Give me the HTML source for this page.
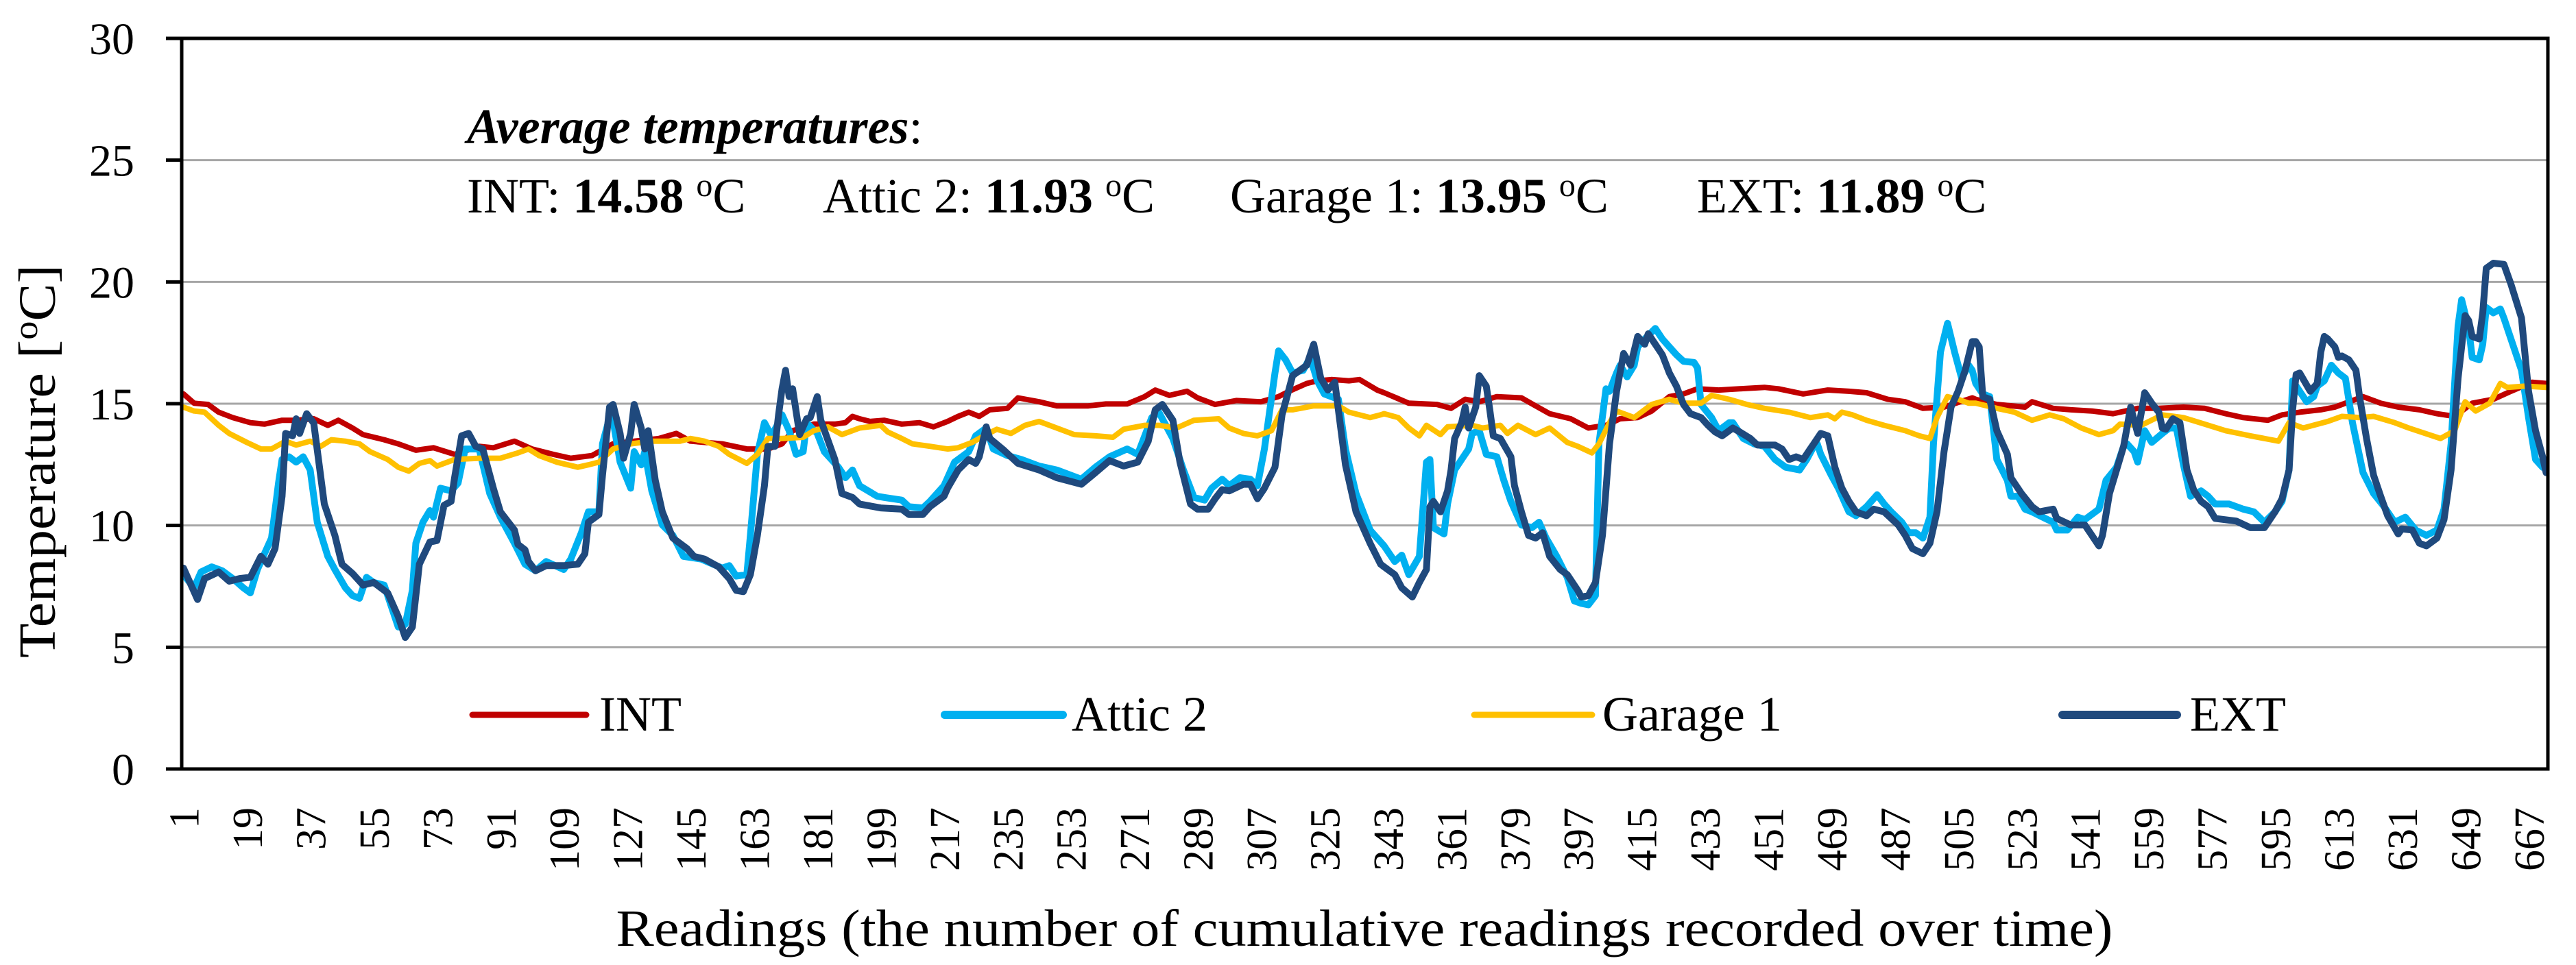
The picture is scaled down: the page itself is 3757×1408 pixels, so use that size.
<!DOCTYPE html>
<html><head><meta charset="utf-8"><style>
html,body{margin:0;padding:0;background:#fff;}
svg{display:block;font-family:"Liberation Serif",serif;}
</style></head><body>
<svg id="chart" width="3757" height="1408" viewBox="0 0 3757 1408" xmlns="http://www.w3.org/2000/svg">
<rect x="0" y="0" width="3757" height="1408" fill="#fff"/>
<g id="grid"></g>
<g id="series"></g>
<rect x="265" y="56" width="3451" height="1066" fill="none" stroke="#000" stroke-width="5"/>
<g id="yticks"></g>
<g id="xticks"></g>
<text x="80" y="673" transform="rotate(-90 80 673)" text-anchor="middle" font-size="76" textLength="574" lengthAdjust="spacingAndGlyphs">Temperature [<tspan font-size="50" dy="-26">o</tspan><tspan dy="26">C]</tspan></text>
<text x="1990" y="1380" text-anchor="middle" font-size="76" textLength="2183" lengthAdjust="spacingAndGlyphs">Readings (the number of cumulative readings recorded over time)</text>
<g font-size="72">
<text x="681" y="209"><tspan font-weight="bold" font-style="italic">Average temperatures</tspan>:</text>
<text x="681" y="310">INT: <tspan font-weight="bold">14.58</tspan> <tspan font-size="48" dy="-24">o</tspan><tspan dy="24">C</tspan></text>
<text x="1200" y="310">Attic 2: <tspan font-weight="bold">11.93</tspan> <tspan font-size="48" dy="-24">o</tspan><tspan dy="24">C</tspan></text>
<text x="1794" y="310">Garage 1: <tspan font-weight="bold">13.95</tspan> <tspan font-size="48" dy="-24">o</tspan><tspan dy="24">C</tspan></text>
<text x="2475" y="310">EXT: <tspan font-weight="bold">11.89</tspan> <tspan font-size="48" dy="-24">o</tspan><tspan dy="24">C</tspan></text>
</g>
<g font-size="72">
<line x1="689" y1="1043" x2="855" y2="1043" stroke="#C00000" stroke-width="9" stroke-linecap="round"/>
<text x="874" y="1066">INT</text>
<line x1="1378" y1="1043" x2="1550" y2="1043" stroke="#00B0F0" stroke-width="12" stroke-linecap="round"/>
<text x="1563" y="1066">Attic 2</text>
<line x1="2150" y1="1043" x2="2322" y2="1043" stroke="#FFC000" stroke-width="9" stroke-linecap="round"/>
<text x="2337" y="1066">Garage 1</text>
<line x1="3008" y1="1043" x2="3175" y2="1043" stroke="#1F497D" stroke-width="12" stroke-linecap="round"/>
<text x="3194" y="1066">EXT</text>
</g>
</svg>
<script>
const yTicks = [0,5,10,15,20,25,30];
const xTickLabels = [1,19,37,55,73,91,109,127,145,163,181,199,217,235,253,271,289,307,325,343,361,379,397,415,433,451,469,487,505,523,541,559,577,595,613,631,649,667];
const nReadings = 672;

const intR = [1,4,8,11,15,20,24,29,33,38,42,45,49,52,58,62,67,72,78,85,89,95,100,106,111,117,123,129,136,141,145,154,161,167,
171,174,180,186,189,191,193,196,200,205,210,214,218,221,224,227,230,235,238,244,249,258,263,269,274,277,281,286,289,294,300,307,312,315,320,323,327,332,335,340,
342,349,357,361,365,369,374,381,385,389,395,400,405,409,414,418,423,427,431,437,443,450,454,461,468,474,479,485,490,495,501,509,
510,516,524,526,532,537,543,549,556,562,569,575,581,586,593,597,602,608,612,620,625,630,636,641,646,651,657,662,668,672];
const intV = [15.4,15.02,14.97,14.65,14.43,14.22,14.16,14.32,14.32,14.38,14.11,14.32,14.0,13.73,13.52,13.35,13.09,13.19,12.92,13.25,13.19,13.46,13.14,12.92,12.76,12.87,13.35,13.46,13.57,13.78,13.46,13.35,13.14,13.14,
13.35,13.89,14.16,14.16,14.22,14.48,14.38,14.27,14.32,14.16,14.22,14.05,14.27,14.48,14.65,14.48,14.75,14.81,15.24,15.08,14.91,14.91,14.99,14.99,15.29,15.56,15.34,15.51,15.24,14.97,15.13,15.08,15.29,15.51,15.83,15.94,15.99,15.94,15.99,15.56,
15.45,15.02,14.97,14.81,15.18,15.08,15.29,15.24,14.91,14.59,14.38,14.0,14.11,14.38,14.43,14.7,15.29,15.4,15.61,15.56,15.61,15.67,15.61,15.4,15.56,15.51,15.45,15.18,15.08,14.81,14.86,15.24,
15.18,14.97,14.86,15.08,14.81,14.75,14.7,14.59,14.81,14.81,14.86,14.81,14.59,14.43,14.32,14.54,14.65,14.75,14.86,15.29,15.02,14.86,14.75,14.59,14.48,15.02,15.18,15.51,15.88,15.83];

const atticR = [1,4,6,9,12,15,18,20,22,24,26,28,29,31,33,35,37,39,42,44,47,49,51,53,55,58,60,62,64,66,67,69,71,72,74,77,79,81,85,88,91,95,98,101,104,109,111,114,116,119,120,122,123,125,128,129,131,132,134,137,140,143,148,154,156,158,161,162,164,166,168,170,
171,173,175,177,178,181,183,187,189,191,193,198,200,205,207,211,213,217,220,224,226,229,231,235,239,244,249,256,260,264,269,272,276,278,282,285,288,291,293,296,298,301,304,306,308,311,312,314,316,319,321,323,325,329,331,334,338,340,
342,345,347,349,352,354,355,356,359,360,362,364,366,367,369,371,374,376,378,381,384,386,388,391,394,396,398,400,402,403,405,406,408,409,411,413,414,416,419,421,423,425,427,430,431,432,435,437,440,441,444,447,450,453,456,460,462,464,465,466,469,471,474,476,479,482,484,486,489,491,493,495,497,498,500,502,504,506,508,509,
510,512,514,516,519,520,522,524,526,529,532,533,536,539,541,545,547,550,552,553,555,556,558,560,563,565,567,569,571,574,576,578,582,586,589,592,595,597,599,600,602,604,606,607,609,611,613,615,617,620,623,626,629,632,635,638,641,643,645,647,648,650,651,653,654,655,657,659,660,662,665,667,669,671];
const atticV = [7.98,7.44,8.09,8.3,8.14,7.82,7.44,7.23,8.19,8.84,9.48,11.74,12.71,12.82,12.6,12.82,12.28,10.13,8.73,8.19,7.44,7.12,7.01,7.87,7.66,7.55,6.69,5.83,5.94,7.33,9.27,10.13,10.61,10.34,11.53,11.42,11.74,13.14,13.14,11.31,10.34,9.27,8.41,8.14,8.52,8.19,8.62,9.7,10.56,10.56,13.35,14.43,14.32,12.6,11.53,13.03,12.49,13.03,11.42,10.02,9.59,8.73,8.62,8.25,8.35,7.92,7.98,9.59,12.92,14.22,13.68,14.22,
14.54,13.89,12.92,13.03,14.22,13.78,13.03,12.39,11.96,12.28,11.63,11.2,11.15,11.04,10.77,10.72,10.99,11.63,12.6,13.03,13.68,14.0,13.14,12.87,12.71,12.44,12.28,11.9,12.39,12.82,13.14,12.92,14.43,14.65,13.57,12.28,11.15,11.04,11.53,11.9,11.63,11.96,11.9,11.63,13.14,16.26,17.17,16.8,16.26,16.37,16.9,15.94,15.4,15.18,13.14,11.31,9.81,9.48,
9.16,8.52,8.78,7.98,8.73,12.6,12.71,9.91,9.65,10.88,12.28,12.71,13.14,13.78,13.89,12.92,12.82,11.85,10.99,10.02,9.91,10.13,9.48,8.73,7.87,6.9,6.8,6.74,7.12,13.35,15.61,15.51,16.26,16.58,16.1,16.58,17.33,17.66,18.09,17.66,17.33,17.01,16.74,16.69,16.47,14.97,14.43,13.89,14.22,14.22,13.57,13.35,13.25,12.71,12.39,12.28,12.71,13.25,13.35,12.92,12.06,11.53,10.56,10.4,10.77,11.26,10.88,10.56,10.13,9.7,9.7,9.48,10.34,13.35,17.12,18.3,17.12,16.04,16.58,16.37,
15.83,15.4,15.29,12.71,11.85,11.2,11.2,10.67,10.56,10.34,10.13,9.81,9.81,10.34,10.24,10.67,11.85,12.39,13.25,13.35,13.03,12.6,13.89,13.41,13.78,14.0,14.0,12.49,11.2,11.42,11.2,10.88,10.88,10.67,10.56,10.13,10.56,10.99,12.28,15.94,15.51,15.08,15.29,15.72,15.94,16.58,16.26,16.04,14.22,12.17,11.31,10.77,10.13,10.34,9.81,9.59,9.81,10.67,13.35,18.19,19.27,18.09,16.9,16.8,17.44,18.95,18.73,18.89,18.52,17.66,16.37,14.43,12.71,12.39];

const garageR = [1,4,7,11,14,19,23,26,30,33,37,40,43,47,51,54,59,62,65,68,71,73,78,85,91,96,99,102,107,113,116,119,123,128,134,138,142,145,149,153,156,161,164,167,
171,177,180,184,188,193,199,201,205,208,213,218,221,225,229,232,236,240,244,249,254,260,265,268,274,278,283,288,295,298,302,306,310,313,316,322,329,332,338,341,
342,346,349,352,354,358,360,367,370,375,377,380,385,389,394,397,401,403,406,408,413,418,423,427,432,435,440,445,450,457,463,468,470,472,475,479,484,490,494,497,499,502,505,508,
510,516,521,526,531,535,540,545,549,551,557,563,569,575,581,588,596,599,603,610,614,619,623,629,633,642,646,649,652,656,659,661,666,672];
const garageV = [14.86,14.7,14.65,14.11,13.78,13.41,13.14,13.14,13.46,13.3,13.46,13.25,13.52,13.46,13.35,13.03,12.71,12.39,12.23,12.55,12.66,12.44,12.71,12.76,12.76,12.98,13.14,12.87,12.6,12.39,12.49,12.6,13.14,13.35,13.46,13.46,13.46,13.57,13.46,13.25,12.92,12.55,12.92,13.57,
13.57,13.62,13.89,14.05,13.73,14.0,14.11,13.84,13.57,13.35,13.25,13.14,13.19,13.41,13.73,13.95,13.78,14.11,14.27,14.0,13.73,13.68,13.62,13.95,14.11,14.11,14.0,14.32,14.38,14.0,13.78,13.68,13.89,14.75,14.75,14.91,14.91,14.65,14.43,14.54,
14.59,14.43,14.0,13.68,14.11,13.73,14.05,14.11,14.0,14.11,13.78,14.11,13.73,14.0,13.41,13.25,12.98,13.35,14.22,14.7,14.43,14.97,15.18,15.02,15.02,15.34,15.18,14.97,14.81,14.65,14.43,14.54,14.38,14.65,14.54,14.32,14.11,13.89,13.68,13.57,14.43,15.29,15.18,15.02,
15.02,14.81,14.65,14.32,14.54,14.38,14.0,13.73,13.89,14.16,14.11,14.54,14.43,14.16,13.89,13.68,13.46,14.22,14.0,14.27,14.48,14.43,14.48,14.22,14.0,13.57,13.89,15.08,14.7,15.02,15.83,15.67,15.72,15.67];

const extR = [1,5,7,11,14,17,20,23,25,27,29,30,32,33,34,36,38,41,44,46,49,52,55,59,62,64,66,68,71,73,75,77,78,80,82,84,86,89,91,95,96,98,99,101,104,109,113,115,116,119,120,122,123,125,126,128,129,131,132,133,135,137,140,144,146,149,153,156,158,160,162,164,166,167,169,170,
171,172,173,174,176,178,179,181,182,186,188,191,193,199,205,207,211,213,217,218,221,224,226,227,229,230,234,238,244,249,256,260,264,268,272,275,277,279,282,284,287,289,292,294,296,298,302,304,306,308,311,313,315,316,320,322,324,326,328,331,334,338,341,
342,345,347,350,352,354,355,356,358,360,361,362,364,365,366,368,369,371,372,373,375,378,379,381,383,385,387,389,392,394,397,398,400,402,404,406,408,410,412,414,416,417,419,421,423,425,427,429,432,434,436,438,441,443,446,448,453,455,457,459,461,463,464,466,468,470,472,474,476,479,481,484,488,490,492,495,497,499,501,503,505,507,509,
510,511,512,514,516,519,520,523,526,528,532,533,537,541,543,545,546,548,550,552,554,556,558,560,562,563,564,566,568,570,572,574,576,578,584,588,592,595,597,599,600,601,602,605,607,608,609,610,612,613,614,616,618,619,621,623,625,627,630,631,634,636,638,641,643,645,647,649,650,651,653,654,655,657,660,662,665,667,669,671,672];
const extV = [8.25,6.96,7.82,8.09,7.71,7.82,7.87,8.73,8.41,9.05,11.2,13.78,13.68,14.38,13.78,14.59,14.2,10.88,9.59,8.41,8.03,7.55,7.66,7.23,6.26,5.4,5.83,8.41,9.32,9.38,10.83,10.99,11.96,13.68,13.78,13.25,13.14,11.53,10.56,9.81,9.22,9.0,8.52,8.14,8.35,8.35,8.41,8.84,10.13,10.45,12.06,14.86,14.97,13.78,12.76,13.78,14.97,14.0,13.14,13.89,11.85,10.56,9.48,9.05,8.73,8.62,8.3,7.82,7.33,7.28,7.98,9.59,11.63,13.25,13.25,14.54,
15.61,16.37,15.29,15.61,13.73,14.38,14.43,15.29,14.32,12.71,11.31,11.15,10.88,10.72,10.67,10.45,10.45,10.77,11.2,11.53,12.28,12.71,12.55,12.82,14.05,13.57,13.09,12.55,12.28,11.96,11.69,12.17,12.66,12.44,12.6,13.46,14.75,14.97,14.32,12.6,10.88,10.67,10.67,11.1,11.47,11.42,11.69,11.69,11.1,11.53,12.39,14.54,15.61,16.15,16.58,17.44,16.04,15.56,15.88,12.49,10.56,9.27,8.41,
8.3,7.98,7.44,7.06,7.66,8.19,10.77,10.99,10.56,11.42,12.28,13.57,14.22,14.86,14.0,14.86,16.15,15.72,14.75,13.68,13.57,12.82,11.63,10.56,9.59,9.48,9.7,8.73,8.19,7.98,7.33,7.06,7.12,7.66,9.59,13.35,15.51,17.06,16.58,17.76,17.44,17.87,17.44,17.01,16.26,15.72,14.97,14.59,14.43,14.11,13.84,13.68,14.0,13.84,13.57,13.3,13.3,13.14,12.71,12.82,12.71,13.14,13.35,13.78,13.68,12.39,11.53,10.99,10.56,10.4,10.67,10.56,10.02,9.59,9.05,8.84,9.27,10.56,13.03,14.86,15.51,16.37,17.55,
17.55,17.33,15.29,15.18,13.89,12.92,11.96,11.31,10.77,10.56,10.67,10.29,10.02,10.02,9.59,9.16,9.59,11.31,12.28,13.25,14.86,13.78,15.45,15.02,14.65,14.0,13.95,14.38,14.22,12.28,11.42,10.99,10.77,10.29,10.18,9.91,9.91,10.56,11.1,12.28,14.75,16.2,16.26,15.51,15.83,17.12,17.76,17.66,17.33,16.9,16.96,16.8,16.37,15.29,13.57,12.06,11.2,10.4,9.65,9.86,9.81,9.27,9.16,9.48,10.24,12.28,16.04,18.62,18.41,17.76,17.66,18.73,20.56,20.77,20.72,19.91,18.52,15.51,13.89,12.82,12.17];

const NS = 'http://www.w3.org/2000/svg';
const L = 265, R = 3716, T = 56, B = 1122;
function xScale(r){ return L + (r - 0.5) * (R - L) / nReadings; }
function yScale(v){ return B - v * (B - T) / 30; }

const grid = document.getElementById('grid');
const yt = document.getElementById('yticks');
yTicks.forEach(function(t){
  const y = yScale(t);
  if (t > 0 && t < 30) {
    const g = document.createElementNS(NS,'line');
    g.setAttribute('x1', L); g.setAttribute('x2', R);
    g.setAttribute('y1', y); g.setAttribute('y2', y);
    g.setAttribute('stroke', '#A6A6A6'); g.setAttribute('stroke-width', '3');
    
    
    grid.appendChild(g);
  }
  const tk = document.createElementNS(NS,'line');
  tk.setAttribute('x1', 242); tk.setAttribute('x2', L);
  tk.setAttribute('y1', y); tk.setAttribute('y2', y);
  tk.setAttribute('stroke', '#000'); tk.setAttribute('stroke-width', '5');
  
  
  yt.appendChild(tk);
  const lb = document.createElementNS(NS,'text');
  lb.setAttribute('x', 196); lb.setAttribute('y', y + 23);
  lb.setAttribute('text-anchor', 'end'); lb.setAttribute('font-size', '66');
  lb.textContent = t;
  
  
  yt.appendChild(lb);
});

const xt = document.getElementById('xticks');
xTickLabels.forEach(function(r){
  const x = xScale(r);
  const lb = document.createElementNS(NS,'text');
  lb.setAttribute('x', 0); lb.setAttribute('y', 0);
  lb.setAttribute('transform', 'translate(' + (x + 22) + ',1178) rotate(-90)');
  lb.setAttribute('text-anchor', 'end'); lb.setAttribute('font-size', '62');
  lb.textContent = r;
  
  
  xt.appendChild(lb);
});

const seriesG = document.getElementById('series');
function drawSeries(rs, vs, color, width, name){
  let d = '';
  for (let i = 0; i < rs.length; i++) {
    d += (i ? 'L' : 'M') + xScale(rs[i]).toFixed(1) + ',' + yScale(vs[i]).toFixed(1);
  }
  const p = document.createElementNS(NS,'path');
  p.setAttribute('d', d);
  p.setAttribute('fill', 'none');
  p.setAttribute('stroke', color);
  p.setAttribute('stroke-width', width);
  p.setAttribute('stroke-linejoin', 'round');
  p.setAttribute('stroke-linecap', 'round');
  
  
  seriesG.appendChild(p);
}
drawSeries(intR, intV, '#C00000', 8, 'int-line');
drawSeries(atticR, atticV, '#00B0F0', 10, 'attic2-line');
drawSeries(garageR, garageV, '#FFC000', 8, 'garage1-line');
drawSeries(extR, extV, '#1F497D', 10, 'ext-line');
</script>
</body></html>
